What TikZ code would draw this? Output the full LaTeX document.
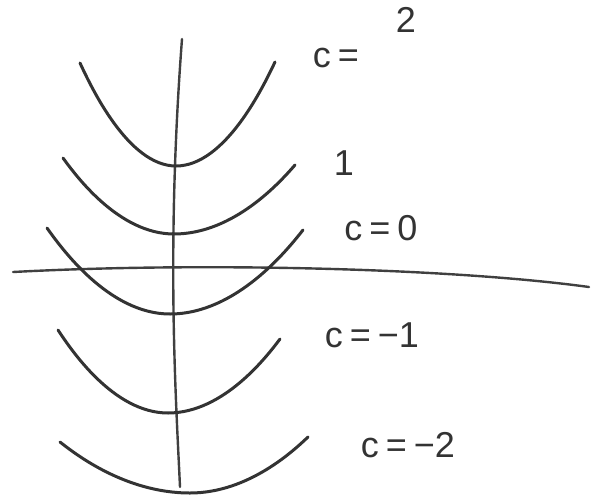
\documentclass[tikz,border=0pt]{standalone}
\usepackage{fontspec}
\setmainfont{Liberation Sans}
\newcommand{\gapx}{\hspace{7pt}}
\begin{document}
\begin{tikzpicture}[x=1pt,y=-1pt,
  ink/.style={draw=black!80, line width=3pt, line cap=round, line join=round},
  axis/.style={draw=black!75, line width=2.4pt, line cap=round},
  lbl/.style={text=black!80, inner sep=0pt, font=\fontsize{36}{40}\selectfont}]
\useasboundingbox (0,0) rectangle (592,496);
% axes
\coordinate (vt) at (182,39);
\coordinate (vb) at (180,487);
\coordinate (hl) at (13,272);
\coordinate (hr) at (589,287);
\draw[axis] (vt) .. controls (166,250) and (176,400) .. (vb);
\draw[axis] (hl) .. controls (200,262) and (450,268) .. (hr);
% parabolas
\coordinate (a1) at (80,63);  \coordinate (b1) at (176,166); \coordinate (c1) at (275,62);
\coordinate (a2) at (63,158); \coordinate (b2) at (174,234); \coordinate (c2) at (295,165);
\coordinate (a3) at (47,228); \coordinate (b3) at (170,314); \coordinate (c3) at (303,230);
\coordinate (a4) at (58,330); \coordinate (b4) at (168,413); \coordinate (c4) at (280,339);
\coordinate (a5) at (60,442); \coordinate (b5) at (190,493); \coordinate (c5) at (308,437);
\draw[ink] (a1) parabola bend (b1) (c1);
\draw[ink] (a2) parabola bend (b2) (c2);
\draw[ink] (a3) parabola bend (b3) (c3);
\draw[ink] (a4) parabola bend (b4) (c4);
\draw[ink] (a5) parabola bend (b5) (c5);
% labels
\node[lbl] (l2a) at (336,58) {c\gapx=};
\node[lbl] (l2b) at (406,20) {2};
\node[lbl] (l1) at (344,163) {1};
\node[lbl] (l0) at (381,228) {c\gapx=\gapx0};
\node[lbl] (lm1) at (372,335) {c\gapx=\gapx−1};
\node[lbl] (lm2) at (408,445) {c\gapx=\gapx−2};
\end{tikzpicture}
\end{document}
